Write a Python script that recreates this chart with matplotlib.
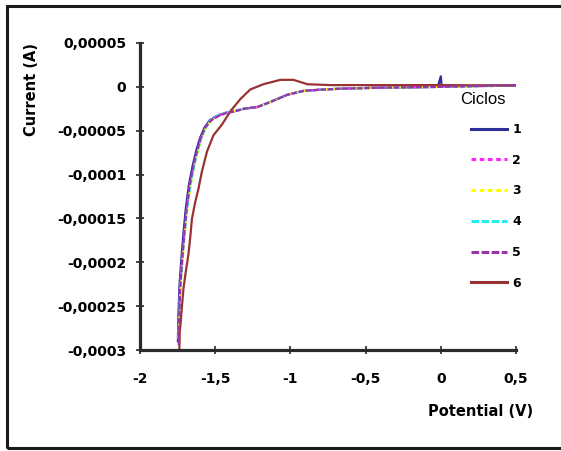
import matplotlib
matplotlib.use("Agg")
import matplotlib.pyplot as plt
from matplotlib.patches import Rectangle
from matplotlib.ticker import FuncFormatter

# cycle data: potential (V) and current (uA)
v1 = [-1.748, -1.745, -1.738, -1.725, -1.71, -1.695, -1.675, -1.65, -1.625, -1.60, -1.57, -1.535,
      -1.49, -1.44, -1.38, -1.31, -1.22, -1.13, -1.02, -0.91, -0.78, -0.65, -0.45, -0.2, -0.02,
      0.0, 0.005, 0.02, 0.25, 0.5]
i1 = [-290, -262, -228, -196, -165, -138, -112, -90, -72, -58, -46, -38,
      -33, -30, -28, -25, -23, -17, -9, -4.5, -3, -2, -1, -0.5, 0,
      12, 2, 0.5, 1, 1.5]

v2 = [-1.745, -1.742, -1.734, -1.72, -1.704, -1.688, -1.667, -1.642, -1.617, -1.592, -1.563,
      -1.53, -1.487, -1.44, -1.38, -1.31, -1.22, -1.13, -1.02, -0.91, -0.78, -0.65, -0.4, 0.0, 0.5]
i2 = [-288, -262, -228, -196, -165, -138, -112, -90, -72, -58, -46,
      -38, -33, -30, -28, -25, -23, -17, -9, -4.5, -3, -2, -1, 0, 1.5]

v3 = [-1.742, -1.739, -1.73, -1.716, -1.7, -1.684, -1.663, -1.638, -1.613, -1.589, -1.56,
      -1.527, -1.485, -1.44, -1.38, -1.31, -1.22, -1.13, -1.02, -0.91, -0.78, -0.65, -0.4, 0.0, 0.5]
i3 = [-286, -262, -228, -196, -165, -138, -112, -90, -72, -58, -46,
      -38, -33, -30, -28, -25, -23, -17, -9, -4.5, -3, -2, -1, 0, 1.5]

v4 = [-1.744, -1.741, -1.732, -1.718, -1.702, -1.686, -1.665, -1.64, -1.615, -1.59, -1.562,
      -1.528, -1.486, -1.44, -1.38, -1.31, -1.22, -1.13, -1.02, -0.91, -0.78, -0.65, -0.4, 0.0, 0.5]
i4 = [-287, -262, -228, -196, -165, -138, -112, -90, -72, -58, -46,
      -38, -33, -30, -28, -25, -23, -17, -9, -4.5, -3, -2, -1, 0, 1.5]

v5 = [-1.742, -1.74, -1.733, -1.72, -1.705, -1.69, -1.67, -1.645, -1.62, -1.595, -1.565, -1.525,
      -1.475, -1.43, -1.37, -1.31, -1.22, -1.13, -1.02, -0.91, -0.78, -0.65, -0.4, 0.0, 0.25, 0.5]
i5 = [-295, -265, -230, -198, -166, -138, -112, -90, -72, -57, -46, -38,
      -33, -30, -28, -25, -23, -17, -9, -4.5, -3, -2, -1, 0, 1, 2]

v6 = [-1.738, -1.736, -1.729, -1.72, -1.711, -1.695, -1.678, -1.665, -1.655, -1.635, -1.611,
      -1.589, -1.555, -1.511, -1.455, -1.40, -1.333, -1.267, -1.18, -1.067, -0.98, -0.887,
      -0.733, -0.5, 0.0, 0.5]
i6 = [-298, -280, -267, -248, -230, -210, -191, -170, -151, -133, -116,
      -97, -74, -55, -43, -28, -14, -3, 3, 8, 8, 3,
      2, 2, 2, 1.5]

cycles = ["1", "2", "3", "4", "5", "6"]
colors = ["#2E2E99", "#FF22FF", "#FFFF00", "#22EEEE", "#9933AA", "#993333"]
styles = ["-", (0, (1.5, 1.2)), (0, (1.5, 1.2)), (0, (2.5, 0.8)), (0, (2.5, 0.8)), "-"]

xticks = [-2, -1.5, -1, -0.5, 0, 0.5]
yticks = [0.00005, 0, -0.00005, -0.0001, -0.00015, -0.0002, -0.00025, -0.0003]
ylabels = ["0,00005", "0", "-0,00005", "-0,0001", "-0,00015", "-0,0002", "-0,00025", "-0,0003"]

fig = plt.figure(figsize=(5.61, 4.51), dpi=100)
ax = fig.add_axes([140 / 561, 1 - 350 / 451, 376 / 561, 307 / 451])

data = [(v1, i1), (v2, i2), (v3, i3), (v4, i4), (v5, i5), (v6, i6)]
order = [0, 1, 2, 3, 5, 4]
handles = [None] * 6
for k in order:
    v, i = data[k]
    ln, = ax.plot(v, [c * 1e-6 for c in i], color=colors[k], linestyle=styles[k], lw=1.6,
                  label=cycles[k])
    handles[k] = ln

ax.set_xlim(-2, 0.5)
ax.set_ylim(-0.0003, 0.00005)
ax.set_xticks(xticks)
ax.set_yticks(yticks)
ax.set_yticklabels(ylabels)
ax.xaxis.set_major_formatter(FuncFormatter(lambda x, p: ("%g" % x).replace(".", ",")))
for s in ["top", "right"]:
    ax.spines[s].set_visible(False)
for s in ["left", "bottom"]:
    ax.spines[s].set_linewidth(2.3)
    ax.spines[s].set_color("#2a2a2a")
ax.tick_params(direction="inout", length=6, width=1.2, color="#2a2a2a")
for lab in ax.get_xticklabels() + ax.get_yticklabels():
    lab.set_fontweight("bold")
    lab.set_fontsize(10)
ax.tick_params(axis="y", pad=7)
ax.tick_params(axis="x", pad=13)

leg = ax.legend(handles=handles, loc="upper left", frameon=False,
                bbox_to_anchor=(471 / 561, 1 - 123 / 451), bbox_transform=fig.transFigure,
                borderpad=0, borderaxespad=0, handlelength=2.9, handletextpad=0.4,
                labelspacing=1.42, prop={"weight": "bold", "size": 9})
for h in leg.get_lines():
    h.set_linewidth(2.2)

fig.text(483 / 561, 1 - 99 / 451, "Ciclos", ha="center", va="center",
         family="Liberation Sans", fontsize=12)
fig.text(32 / 561, 1 - 90 / 451, "Current (A)", rotation=90, ha="center", va="center",
         fontweight="bold", fontsize=10.5)
fig.text(481 / 561, 1 - 412 / 451, "Potential (V)", ha="center", va="center",
         fontweight="bold", fontsize=10.5)

fig.add_artist(Rectangle((6.5 / 561, 3 / 451), 1.2, 442 / 451, transform=fig.transFigure,
                         fill=False, lw=2.2, edgecolor="#1a1a1a"))

fig.savefig("out.png", dpi=100)
